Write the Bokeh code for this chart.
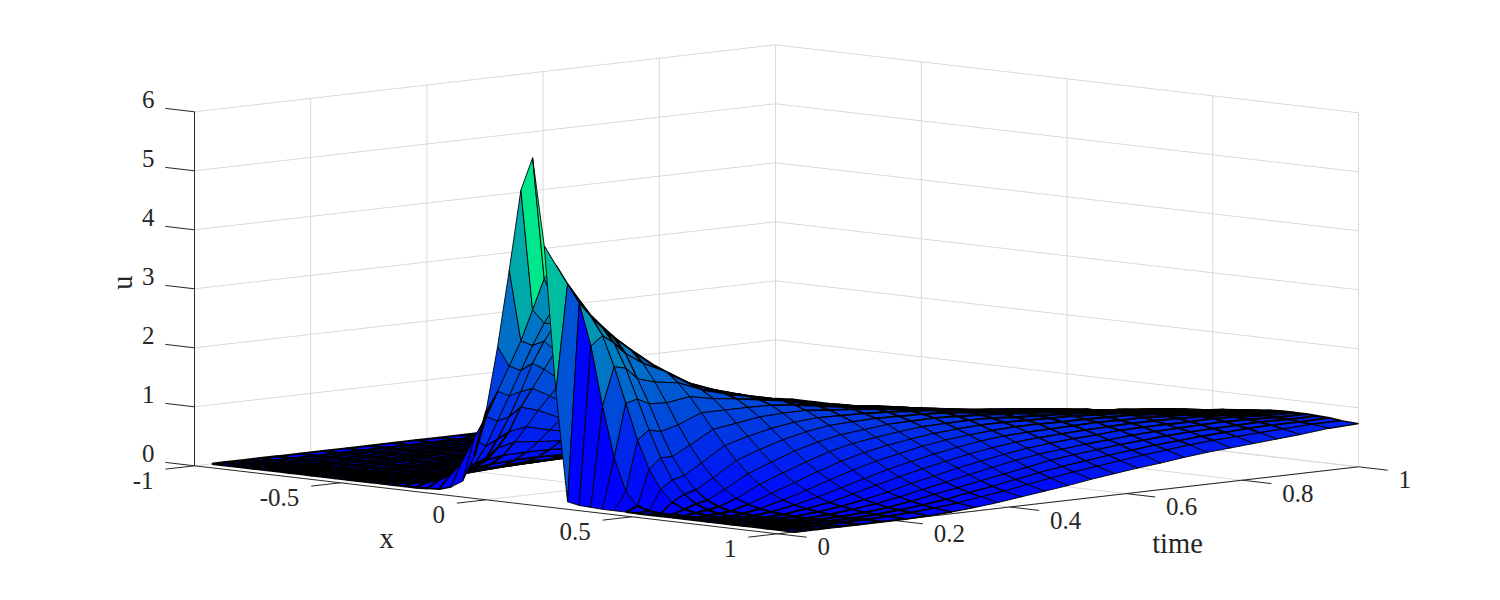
import numpy as np
from bokeh.plotting import figure
from bokeh.models import Range1d
from bokeh.core.properties import value
from bokeh.embed import file_html
from bokeh.resources import INLINE

# Surface samples: u on (time, x). Left tail zeros are omitted.
x_values = [-1.0] + [round(-0.94 + 0.04 * k, 2) for k in range(48)] + [1.0]
t_values = [.03, .05, .07, .09, .11, .14, .18, .22, .26, .30, .34, .38, .42, .46, .50,
            .54, .58, .62, .66, .70, .74, .78, .82, .86, .90, .95, 1.0]
first_x = [-.26, -.42, -.46, -.50, -.54, -.58, -.62, -.70, -.74, -.78, -.82, -.86, -.90,
           -.94, -.94, -.94, -.94, -.94, -.94, -.94, -.94, -.94, -.94, -.94, -.94, -.94, -.94]
u_rows = [
 [.01,.02,.08,.20,.65,1.42,2.55,3.87,5.25,5.82,4.35,1.90,.06,.02,.01],
 [.01,.02,.04,.07,.13,.25,.50,.90,1.30,1.75,2.20,2.65,3.20,3.75,4.00,3.70,3.40,2.70,1.70,.85,.30,.08,.02],
 [.01,.01,.02,.05,.08,.15,.25,.42,.75,1.20,1.65,2.10,2.55,2.95,3.30,3.50,3.40,3.15,2.85,2.35,1.75,1.15,.68,.36,.17,.07,.03,.01],
 [.01,.01,.02,.04,.07,.12,.20,.32,.50,.85,1.25,1.70,2.20,2.60,2.92,3.13,3.20,3.12,2.95,2.70,2.30,1.80,1.30,.85,.50,.28,.14,.06,.02],
 [.01,.01,.02,.04,.07,.11,.17,.26,.42,.65,.95,1.39,1.73,2.08,2.41,2.67,2.86,2.95,2.90,2.75,2.50,2.10,1.70,1.25,.85,.55,.33,.18,.09,.04,.02,.01],
 [.01,.01,.02,.03,.05,.08,.11,.18,.30,.47,.72,1.00,1.30,1.57,1.84,2.10,2.32,2.48,2.58,2.60,2.50,2.30,2.01,1.68,1.33,1.01,.73,.50,.33,.20,.12,.07,.04,.02,.01],
 [.01,.01,.02,.03,.04,.06,.09,.13,.20,.32,.48,.68,.90,1.12,1.32,1.53,1.72,1.90,2.04,2.14,2.19,2.19,2.11,1.95,1.74,1.49,1.23,.98,.75,.55,.39,.26,.17,.11,.07,.04,.02,.01],
 [.01,.01,.01,.02,.03,.04,.06,.08,.10,.15,.22,.33,.48,.65,.82,1.00,1.16,1.32,1.47,1.61,1.73,1.82,1.88,1.90,1.87,1.79,1.66,1.49,1.29,1.09,.89,.70,.54,.40,.29,.20,.13,.09,.06,.03,.02,.01],
 [.01,.01,.01,.02,.02,.03,.05,.06,.08,.11,.16,.22,.32,.45,.60,.75,.90,1.03,1.17,1.30,1.42,1.53,1.61,1.68,1.71,1.72,1.68,1.61,1.49,1.35,1.18,1.01,.84,.68,.54,.42,.31,.23,.16,.11,.07,.05,.03,.01],
 [.01,.01,.01,.02,.02,.03,.04,.05,.07,.09,.12,.17,.24,.33,.44,.57,.71,.84,.96,1.07,1.19,1.29,1.39,1.47,1.54,1.58,1.60,1.59,1.55,1.48,1.37,1.24,1.10,.95,.81,.67,.54,.42,.33,.24,.18,.13,.09,.06,.03],
 [.01,.01,.01,.02,.02,.03,.03,.05,.06,.08,.11,.15,.20,.27,.35,.45,.56,.67,.78,.89,.99,1.09,1.19,1.27,1.35,1.41,1.46,1.49,1.50,1.49,1.44,1.37,1.27,1.16,1.03,.90,.77,.65,.53,.43,.34,.26,.20,.14,.10,.06],
 [.01,.01,.01,.01,.02,.02,.03,.04,.05,.07,.09,.12,.16,.21,.27,.35,.44,.53,.63,.72,.81,.90,.99,1.08,1.16,1.23,1.29,1.34,1.38,1.40,1.40,1.38,1.33,1.26,1.18,1.07,.96,.85,.73,.62,.52,.42,.34,.27,.21,.16,.10],
 [.01,.01,.01,.02,.03,.04,.05,.06,.08,.10,.12,.15,.18,.22,.27,.32,.38,.45,.52,.59,.67,.76,.84,.92,1.00,1.08,1.14,1.20,1.25,1.29,1.32,1.33,1.32,1.30,1.25,1.19,1.11,1.01,.91,.81,.70,.60,.51,.42,.34,.27,.21,.15],
 [.01,.01,.01,.02,.02,.03,.04,.05,.06,.08,.10,.12,.15,.18,.22,.26,.31,.37,.43,.49,.56,.63,.71,.78,.86,.93,1.00,1.07,1.12,1.17,1.22,1.25,1.26,1.27,1.26,1.23,1.18,1.12,1.05,.96,.87,.77,.68,.58,.50,.41,.34,.28,.20],
 [.01,.01,.01,.02,.02,.03,.04,.05,.07,.08,.10,.12,.15,.18,.22,.26,.30,.35,.41,.47,.53,.60,.67,.74,.81,.88,.94,1.00,1.06,1.11,1.15,1.18,1.21,1.22,1.22,1.20,1.17,1.13,1.06,.99,.91,.83,.74,.65,.57,.48,.41,.34,.25],
 [.01,.01,.02,.02,.03,.03,.04,.05,.07,.08,.10,.12,.15,.18,.21,.25,.29,.34,.39,.45,.50,.56,.63,.69,.76,.82,.88,.94,.99,1.04,1.08,1.12,1.15,1.16,1.17,1.17,1.15,1.11,1.07,1.01,.94,.87,.79,.71,.63,.55,.47,.40,.31],
 [.01,.01,.02,.02,.03,.04,.04,.06,.07,.08,.10,.12,.15,.17,.21,.24,.28,.32,.37,.42,.47,.53,.59,.65,.71,.77,.82,.88,.93,.98,1.02,1.05,1.08,1.10,1.12,1.12,1.11,1.09,1.06,1.01,.96,.89,.82,.75,.67,.60,.52,.45,.36],
 [.01,.01,.02,.02,.03,.04,.05,.06,.07,.08,.10,.12,.14,.17,.20,.23,.27,.31,.35,.40,.45,.50,.55,.60,.66,.71,.77,.82,.87,.92,.96,.99,1.02,1.04,1.06,1.07,1.07,1.06,1.03,1.00,.96,.90,.84,.78,.71,.64,.57,.50,.41],
 [.01,.02,.02,.02,.03,.04,.05,.06,.07,.08,.10,.12,.14,.16,.19,.22,.26,.29,.33,.38,.42,.47,.52,.57,.62,.67,.72,.77,.82,.86,.90,.94,.97,.99,1.01,1.02,1.03,1.03,1.01,.99,.95,.91,.86,.80,.74,.68,.61,.55,.45],
 [.01,.02,.02,.03,.03,.04,.05,.06,.07,.08,.10,.12,.14,.16,.19,.22,.25,.28,.32,.36,.40,.45,.49,.54,.59,.64,.69,.73,.78,.82,.86,.90,.93,.95,.97,.99,1.00,1.00,.99,.98,.95,.92,.87,.83,.77,.71,.65,.59,.50],
 [.01,.02,.02,.03,.03,.04,.05,.06,.07,.08,.10,.12,.14,.16,.18,.21,.24,.27,.31,.34,.38,.43,.47,.51,.56,.60,.65,.69,.74,.78,.82,.85,.89,.91,.93,.95,.96,.97,.97,.96,.94,.91,.88,.84,.79,.74,.68,.63,.54],
 [.01,.02,.02,.03,.03,.04,.05,.06,.07,.08,.10,.11,.13,.15,.18,.20,.23,.26,.29,.33,.36,.40,.44,.48,.53,.57,.61,.66,.70,.74,.77,.81,.84,.87,.89,.91,.93,.94,.94,.94,.93,.91,.88,.84,.80,.76,.71,.66,.57],
 [.02,.02,.02,.03,.03,.04,.05,.06,.07,.08,.09,.11,.12,.14,.16,.18,.21,.24,.27,.30,.34,.36,.40,.44,.48,.52,.56,.60,.63,.67,.71,.74,.77,.80,.82,.84,.86,.87,.88,.90,.90,.89,.87,.84,.81,.77,.73,.68,.60],
 [.02,.02,.02,.03,.03,.04,.05,.06,.07,.07,.08,.10,.11,.13,.15,.18,.20,.22,.25,.28,.31,.34,.37,.41,.45,.47,.51,.55,.59,.62,.65,.69,.72,.74,.76,.79,.81,.83,.85,.86,.87,.87,.86,.85,.82,.78,.75,.70,.63],
 [.02,.02,.02,.03,.03,.04,.05,.06,.07,.07,.08,.10,.11,.13,.15,.17,.19,.21,.24,.26,.30,.33,.35,.39,.42,.46,.49,.53,.56,.60,.62,.66,.69,.72,.74,.76,.78,.80,.82,.84,.84,.84,.84,.83,.81,.79,.76,.72,.66],
 [.02,.02,.02,.03,.03,.04,.05,.05,.06,.07,.08,.09,.11,.12,.14,.16,.18,.20,.22,.25,.28,.30,.33,.36,.40,.42,.46,.49,.52,.55,.59,.62,.64,.67,.70,.72,.74,.75,.76,.78,.79,.80,.80,.80,.79,.78,.76,.74,.71],
 [.02,.02,.02,.02,.03,.03,.04,.04,.05,.06,.07,.08,.09,.11,.12,.14,.16,.18,.20,.22,.24,.27,.29,.32,.34,.38,.40,.44,.46,.50,.52,.55,.57,.60,.62,.65,.67,.70,.72,.74,.76,.78,.79,.79,.79,.78,.77,.75,.73],
]
z_ticks = [0, 1, 2, 3, 4, 5, 6]
x_ticks = [-1, -0.5, 0, 0.5, 1]
x_tick_labels = ["-1", "-0.5", "0", "0.5", "1"]
t_ticks = [0, 0.2, 0.4, 0.6, 0.8, 1]
t_tick_labels = ["0", "0.2", "0.4", "0.6", "0.8", "1"]

# Orthographic view of the box
def proj(x, t, z):
    return (485.5 + 291.5 * np.asarray(x, float) + 581.0 * np.asarray(t, float),
            499.3 + 34.0 * np.asarray(x, float) - 67.0 * np.asarray(t, float) - 59.0 * np.asarray(z, float))

U = np.zeros((len(t_values), len(x_values)))
for i, (fx, row) in enumerate(zip(first_x, u_rows)):
    j0 = x_values.index(fx)
    U[i, j0:j0 + len(row)] = row[:len(x_values) - j0]
umax = U.max()

xs, ys, colors, widths = [], [], [], []
for i in range(len(t_values) - 2, -1, -1):
    for j in range(len(x_values) - 1):
        cx = [x_values[j], x_values[j], x_values[j + 1], x_values[j + 1]]
        ct = [t_values[i], t_values[i + 1], t_values[i + 1], t_values[i]]
        cz = [U[i, j], U[i + 1, j], U[i + 1, j + 1], U[i, j + 1]]
        px, py = proj(cx, ct, cz)
        area = 0.5 * abs((px[2] - px[0]) * (py[3] - py[1]) - (px[3] - px[1]) * (py[2] - py[0]))
        v = U[i, j] / umax
        xs.append(px.tolist())
        ys.append(py.tolist())
        colors.append("#%02x%02x%02x" % (0, int(round(255 * v)), int(round(255 * (1 - 0.5 * v)))))
        widths.append(float(np.interp(area, [70, 220], [2.2, 0.9])))

p = figure(width=1484, height=584, x_range=Range1d(0, 1484), y_range=Range1d(584, 0),
           output_backend="svg", toolbar_location=None, min_border=0)
p.axis.visible = False
p.grid.visible = False
p.outline_line_color = None
p.background_fill_color = "white"

GRID = "#d9d9d9"
AX = "#262626"
gx, gy = [], []
def seg(store_x, store_y, a, b):
    ax, ay = proj(*a)
    bx, by = proj(*b)
    store_x.append([float(ax), float(bx)])
    store_y.append([float(ay), float(by)])

for z in z_ticks:
    seg(gx, gy, (-1, 0, z), (-1, 1, z))
    seg(gx, gy, (-1, 1, z), (1, 1, z))
for t in t_ticks[1:]:
    seg(gx, gy, (-1, t, 0), (-1, t, 6))
    seg(gx, gy, (-1, t, 0), (1, t, 0))
for x in x_ticks[1:]:
    seg(gx, gy, (x, 1, 0), (x, 1, 6))
    seg(gx, gy, (x, 0, 0), (x, 1, 0))
p.multi_line(gx, gy, line_color=GRID, line_width=1)

ax_x, ax_y = [], []
seg(ax_x, ax_y, (-1, 0, 0), (-1, 0, 6))
seg(ax_x, ax_y, (-1, 0, 0), (1, 0, 0))
seg(ax_x, ax_y, (1, 0, 0), (1, 1, 0))
for z in z_ticks:
    seg(ax_x, ax_y, (-1, 0, z), (-1.1, 0, z))
for x in x_ticks:
    seg(ax_x, ax_y, (x, 0, 0), (x, -0.05, 0))
for t in t_ticks:
    seg(ax_x, ax_y, (1, t, 0), (1.1, t, 0))
p.multi_line(ax_x, ax_y, line_color=AX, line_width=1)

p.patches(xs, ys, fill_color=colors, line_color="black", line_width=widths)

def label(tx, ty, texts, size, align="center", angle=0.0):
    p.text(tx, ty, text=texts, text_font=value("Liberation Serif"), text_font_size=size,
           text_color=AX, text_align=align, text_baseline="middle", angle=angle)

zx, zy = proj([-1.0] * len(z_ticks), [0.0] * len(z_ticks), z_ticks)
label((zx - 40).tolist(), (zy - 12).tolist(), [str(z) for z in z_ticks], "25px", "right")
xx, xy = proj(x_ticks, [0.0] * len(x_ticks), [0.0] * len(x_ticks))
label((xx - 41).tolist(), (xy + 15).tolist(), x_tick_labels, "25px", "right")
tx, ty = proj([1.0] * len(t_ticks), t_ticks, [0.0] * len(t_ticks))
label((tx + 40).tolist(), (ty + 13).tolist(), t_tick_labels, "25px", "left")
label([386], [538], ["x"], "28.5px")
label([1177], [543], ["time"], "28.5px")
label([122], [282], ["u"], "28.5px", angle=np.pi / 2)

open("out.html", "w").write(file_html(p, INLINE))
